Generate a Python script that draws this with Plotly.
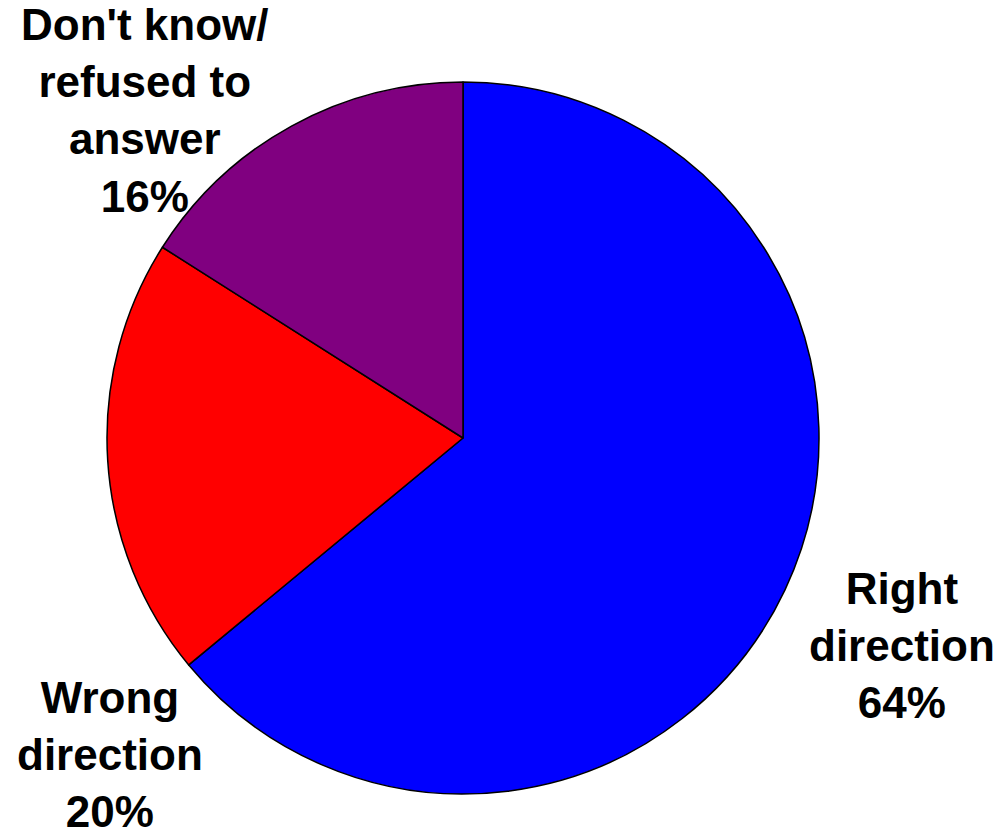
import plotly.graph_objects as go

categories = ["Right direction", "Wrong direction", "Don't know/refused to answer"]
label_lines = [["Right", "direction"], ["Wrong", "direction"], ["Don't know/", "refused to", "answer"]]
values = [64, 20, 16]
colors = ["#0000FF", "#FF0000", "#800080"]

W, H = 1002, 833
cx, cy, r = 463, 438, 356

fig = go.Figure(go.Pie(
    labels=categories,
    values=values,
    sort=False,
    direction="clockwise",
    rotation=0,
    marker=dict(colors=colors, line=dict(color="black", width=1.5)),
    textinfo="none",
    hoverinfo="label+percent",
    showlegend=False,
    domain=dict(x=[(cx - r) / W, (cx + r) / W], y=[(H - cy - r) / H, (H - cy + r) / H]),
))

# label anchor centres (pixels)
label_pos = [(902, 645), (110, 754), (145, 110)]
for lines, v, (px, py) in zip(label_lines, values, label_pos):
    fig.add_annotation(
        text="<br>".join("<b>" + s + "</b>" for s in lines + [f"{v}%"]),
        x=px / W, y=1 - py / H, xref="paper", yref="paper",
        xanchor="center", yanchor="middle", showarrow=False,
        font=dict(family="Liberation Sans, Arial", size=44, color="black"),
        align="center",
    )

fig.update_layout(
    width=W, height=H,
    margin=dict(l=0, r=0, t=0, b=0),
    paper_bgcolor="white", plot_bgcolor="white",
    font=dict(family="Liberation Sans, Arial"),
)

fig.write_html("out.html")
